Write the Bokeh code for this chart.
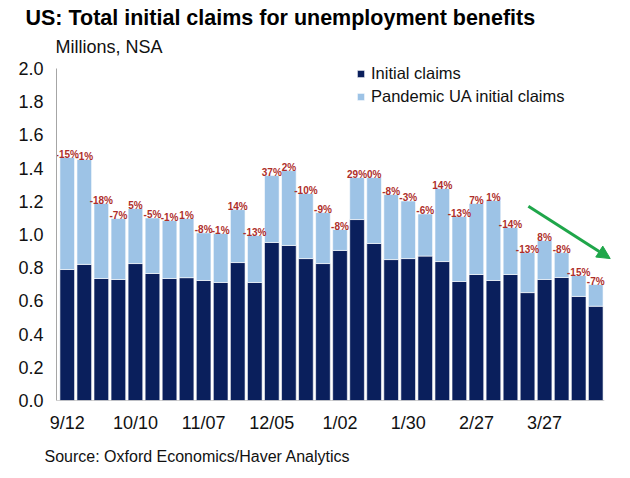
from bokeh.plotting import figure
from bokeh.models import (ColumnDataSource, FixedTicker, Arrow, NormalHead,
                          Legend, LegendItem, Range1d, Title)
from bokeh.core.properties import value
from bokeh.embed import file_html
from bokeh.resources import INLINE

# ---- data (millions, NSA), weekly from 9/12 ----
initial_claims = [0.789, 0.820, 0.735, 0.729, 0.825, 0.765, 0.735, 0.740,
                  0.723, 0.711, 0.831, 0.711, 0.952, 0.934, 0.855, 0.825,
                  0.904, 1.090, 0.946, 0.849, 0.855, 0.870, 0.837, 0.717,
                  0.759, 0.723, 0.759, 0.650, 0.729, 0.741, 0.627, 0.568]
total_claims = [1.464, 1.452, 1.187, 1.096, 1.157, 1.100, 1.084, 1.096,
                1.010, 1.006, 1.150, 0.994, 1.355, 1.385, 1.247, 1.133,
                1.030, 1.343, 1.343, 1.241, 1.202, 1.124, 1.277, 1.108,
                1.187, 1.205, 1.042, 0.891, 0.964, 0.891, 0.753, 0.699]
pct_change = ["-15%", "-1%", "-18%", "-7%", "5%", "-5%", "-1%", "1%",
              "-8%", "-1%", "14%", "-13%", "37%", "2%", "-10%", "-9%",
              "-8%", "29%", "0%", "-8%", "-3%", "-6%", "14%", "-13%",
              "7%", "1%", "-14%", "-13%", "8%", "-8%", "-15%", "-7%"]
tick_labels = ["9/12", "10/10", "11/07", "12/05", "1/02", "1/30", "2/27", "3/27"]
tick_step = 4
series_names = ["Initial claims", "Pandemic UA initial claims"]
y_ticks = [0.0, 0.2, 0.4, 0.6, 0.8, 1.0, 1.2, 1.4, 1.6, 1.8, 2.0]

n = len(initial_claims)
idx = list(range(n))
pandemic = [t - i for t, i in zip(total_claims, initial_claims)]

FONT = "Liberation Sans"
NAVY = "#0A1F5C"
LIGHT = "#9DC3E6"
RED = "#AE2E2A"
GREEN = "#1FA64A"
AXIS = "#A6A6A6"

X0 = -0.63
Y_MAX = 2.0
Y_TOP = 2.0602   # a little headroom above the axis for the legend

src = ColumnDataSource(dict(x=idx, initial=initial_claims, pandemic=pandemic,
                            total=total_claims, pct=pct_change))

p = figure(width=622, height=476, output_backend="svg", toolbar_location=None,
           x_range=Range1d(X0, 32.57), y_range=Range1d(0, Y_TOP),
           min_border_left=56, min_border_right=0, min_border_top=58,
           min_border_bottom=76, outline_line_color=None)
p.xgrid.visible = False
p.ygrid.visible = False

r = p.vbar_stack(["initial", "pandemic"], x="x", width=0.86, source=src,
                 color=[NAVY, LIGHT], line_color="white", line_width=0.6)

p.text(x="x", y="total", text="pct", source=src, text_color=RED,
       text_font=value(FONT), text_font_size="10px", text_font_style="bold",
       text_align="center", text_baseline="alphabetic", y_offset=-3)

# bottom axis line only under bars
p.segment(x0=[X0], y0=[0], x1=[n - 0.5], y1=[0], line_color=AXIS, line_width=1)

# axes
p.xaxis.ticker = FixedTicker(ticks=[i * tick_step for i in range(len(tick_labels))])
p.xaxis.major_label_overrides = {i * tick_step: lab for i, lab in enumerate(tick_labels)}
p.xaxis.axis_line_color = None
p.xaxis.major_tick_line_color = None
p.xaxis.minor_tick_line_color = None
p.xaxis.major_label_standoff = 6

p.yaxis.ticker = FixedTicker(ticks=y_ticks)
p.yaxis.bounds = (0, Y_MAX)
p.yaxis.major_label_overrides = {v: f"{v:.1f}" for v in y_ticks}
p.yaxis.axis_line_color = AXIS
p.yaxis.major_tick_line_color = None
p.yaxis.minor_tick_line_color = None
p.yaxis.major_tick_out = 0
p.yaxis.minor_tick_out = 0
p.yaxis.major_label_standoff = 13

for ax in (p.xaxis, p.yaxis):
    ax.major_label_text_font = FONT
    ax.major_label_text_font_size = "18px"
    ax.major_label_text_color = "#111111"

# legend
legend = Legend(items=[LegendItem(label=series_names[0], renderers=[r[0]]),
                       LegendItem(label=series_names[1], renderers=[r[1]])],
                location=(300, 294), orientation="vertical",
                glyph_width=9, glyph_height=9, label_standoff=6, spacing=3,
                label_height=20, padding=0, margin=0,
                border_line_color=None, background_fill_alpha=0,
                label_text_font=FONT, label_text_font_size="16.5px",
                label_text_color="#111111")
p.add_layout(legend)

# trend arrow
p.add_layout(Arrow(x_start=27.05, y_start=1.17, x_end=31.85, y_end=0.855,
                   line_color=GREEN, line_width=3,
                   end=NormalHead(size=13, fill_color=GREEN, line_color=GREEN)))

# texts (closest to the plot first)
p.add_layout(Title(text="Millions, NSA", align="left", offset=-1, standoff=4,
                   text_font=FONT, text_font_size="18px", text_font_style="normal",
                   text_color="#111111"), "above")
p.add_layout(Title(text="US: Total initial claims for unemployment benefits",
                   align="left", offset=-31, standoff=5,
                   text_font=FONT, text_font_size="21.5px", text_font_style="bold",
                   text_color="#000000"), "above")
p.add_layout(Title(text="Source: Oxford Economics/Haver Analytics", align="left",
                   offset=-12, standoff=20, text_font=FONT, text_font_size="16px",
                   text_font_style="normal", text_color="#111111"), "below")

open("out.html", "w").write(file_html(p, INLINE))
